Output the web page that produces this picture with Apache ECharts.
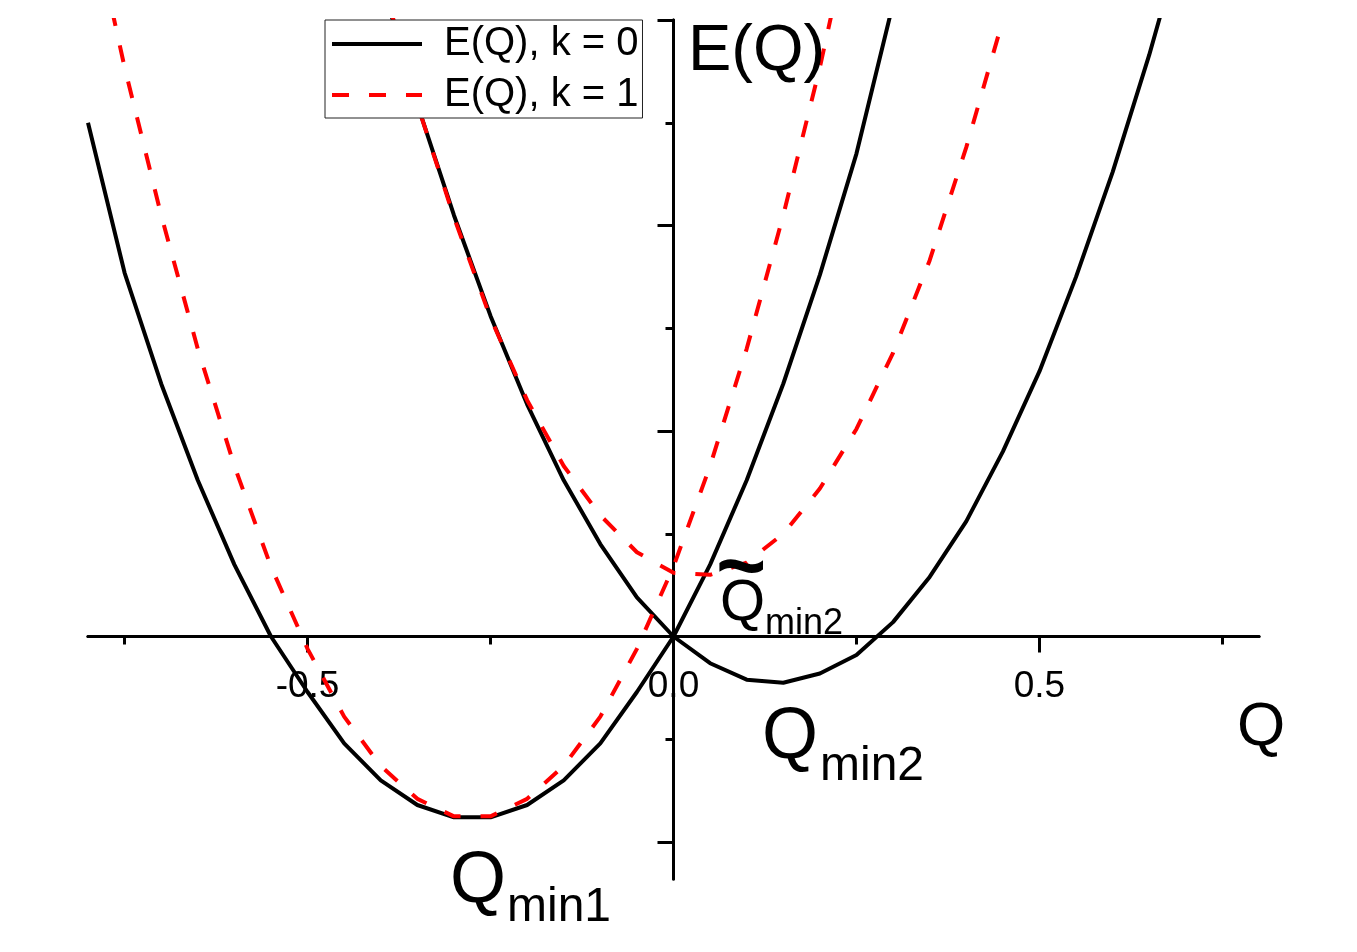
<!DOCTYPE html>
<html>
<head>
<meta charset="utf-8">
<script src="https://cdn.jsdelivr.net/npm/echarts@6/dist/echarts.min.js"></script>
<style>
  html, body { margin: 0; padding: 0; background: #fff; }
  #chart { width: 1357px; height: 952px; }
</style>
</head>
<body>
<div id="chart"></div>
<script>
// ---- data ----
// black curve, left well (k = 0)
const qA = [-0.80,-0.75,-0.70,-0.65,-0.60,-0.55,-0.50,-0.45,-0.40,-0.35,-0.30,-0.25,-0.20,-0.15,-0.10,-0.05,0.00,0.05,0.10,0.15,0.20,0.25,0.30,0.35];
const eA = [2.50,1.77,1.23,0.76,0.35,0.00,-0.27,-0.52,-0.70,-0.82,-0.88,-0.88,-0.82,-0.70,-0.52,-0.27,0.00,0.35,0.76,1.23,1.76,2.35,3.08,3.85];
// black curve, right well (k = 0)
const qB = [-0.40,-0.35,-0.30,-0.25,-0.20,-0.15,-0.10,-0.05,0.00,0.05,0.10,0.15,0.20,0.25,0.30,0.35,0.40,0.45,0.50,0.55,0.60,0.65,0.70];
const eB = [3.20,2.59,2.05,1.56,1.13,0.76,0.45,0.19,0.00,-0.13,-0.21,-0.225,-0.18,-0.09,0.07,0.29,0.56,0.90,1.29,1.75,2.26,2.83,3.46];
// red dashed curve, left (k = 1)
const qC = [-0.80,-0.75,-0.70,-0.65,-0.60,-0.55,-0.50,-0.45,-0.40,-0.35,-0.30,-0.25,-0.20,-0.15,-0.10,-0.05,0.00,0.05,0.10,0.15,0.20,0.25];
const eC = [3.58,2.77,2.05,1.40,0.83,0.34,-0.06,-0.39,-0.63,-0.79,-0.875,-0.875,-0.79,-0.63,-0.39,-0.06,0.34,0.83,1.40,2.05,2.77,3.58];
// red dashed curve, right (k = 1)
const qD = [-0.40,-0.35,-0.30,-0.25,-0.20,-0.15,-0.10,-0.05,0.00,0.05,0.10,0.15,0.20,0.25,0.30,0.35,0.40,0.45];
const eD = [3.22,2.59,2.04,1.55,1.15,0.83,0.59,0.41,0.31,0.30,0.36,0.50,0.72,1.01,1.38,1.83,2.38,3.00];

const seriesNames = ['E(Q), k = 0', 'E(Q), k = 1'];
const xMajorTicks = [-0.5, 0, 0.5];
const xMinorTicks = [-0.75, -0.25, 0.25, 0.75];
const yMajorTicks = [-1, 0, 1, 2, 3];
const yMinorTicks = [-0.5, 0.5, 1.5, 2.5];
const xRange = [-0.8, 0.8];
const yRange = [-1.18, 3.0];

const pairs = (q, e) => q.map((v, i) => [v, e[i]]);
const FONT = '"Liberation Sans", Arial, Helvetica, sans-serif';

// grid geometry
const G = { left: 88, top: 20, width: 1171, height: 859 };
// offsets that put the axes through the origin (Q = 0, E = 0)
const xAxisOffset = -(G.height * (0 - yRange[0]) / (yRange[1] - yRange[0]));
const yAxisOffset = -(G.width * (0 - xRange[0]) / (xRange[1] - xRange[0]));

const chart = echarts.init(document.getElementById('chart'), null, { renderer: 'canvas' });

function xAxisDef(ticks, len, withLabels) {
  return {
    type: 'value', min: xRange[0], max: xRange[1], position: 'bottom', offset: xAxisOffset, gridIndex: 0,
    splitLine: { show: false },
    axisLine: { show: true, onZero: false, lineStyle: { color: '#000', width: 3 } },
    axisTick: { show: true, customValues: ticks, length: len, inside: false, lineStyle: { color: '#000', width: 3 } },
    axisLabel: withLabels ? {
      show: true, customValues: ticks, margin: 32, color: '#000', fontSize: 37, fontFamily: FONT,
      formatter: v => Number(v).toFixed(1)
    } : { show: false }
  };
}
function yAxisDef(ticks, len) {
  return {
    type: 'value', min: yRange[0], max: yRange[1], position: 'left', offset: yAxisOffset, gridIndex: 0,
    splitLine: { show: false },
    axisLine: { show: true, onZero: false, lineStyle: { color: '#000', width: 3 } },
    axisTick: { show: true, customValues: ticks, length: len, inside: false, lineStyle: { color: '#000', width: 3 } },
    axisLabel: { show: false }
  };
}

const blackStyle = { color: '#000', width: 4, type: 'solid' };
const redStyle = { color: '#ff0000', width: 4, type: [17, 20], dashOffset: 0 };

chart.setOption({
  animation: false,
  backgroundColor: '#fff',
  grid: { left: G.left, top: G.top, width: G.width, height: G.height, containLabel: false, outerBoundsMode: 'none' },
  xAxis: [xAxisDef(xMajorTicks, 16, true), xAxisDef(xMinorTicks, 8, false)],
  yAxis: [yAxisDef(yMajorTicks, 16), yAxisDef(yMinorTicks, 8)],
  legend: {
    data: seriesNames,
    orient: 'vertical',
    left: 325, top: 20,
    padding: [4, 4, 3, 5],
    itemGap: 11,
    itemWidth: 90, itemHeight: 14,
    backgroundColor: '#fff',
    borderColor: '#222', borderWidth: 1,
    itemStyle: { opacity: 0 },
    lineStyle: { width: 4 },
    textStyle: { fontSize: 40, color: '#000', fontFamily: FONT, padding: [0, 0, 0, 17] }
  },
  series: [
    { name: seriesNames[0], type: 'line', data: pairs(qA, eA), symbol: 'none', lineStyle: blackStyle, itemStyle: { color: '#000' }, clip: true, z: 2 },
    { name: seriesNames[0], type: 'line', data: pairs(qB, eB), symbol: 'none', lineStyle: blackStyle, itemStyle: { color: '#000' }, clip: true, z: 2 },
    { name: seriesNames[1], type: 'line', data: pairs(qC, eC), symbol: 'none', lineStyle: redStyle, itemStyle: { color: '#ff0000' }, clip: true, z: 3 },
    { name: seriesNames[1], type: 'line', data: pairs(qD, eD), symbol: 'none', lineStyle: redStyle, itemStyle: { color: '#ff0000' }, clip: true, z: 3 }
  ],
  graphic: [
    { type: 'text', left: 688, top: 20, z: 10, style: { text: 'E(Q)', font: '65px ' + FONT, fill: '#000' } },
    { type: 'text', left: 1237, top: 697, z: 10, style: { text: 'Q', font: '62px ' + FONT, fill: '#000' } },
    { type: 'text', left: 762, top: 702, z: 10, style: { text: 'Q', font: '72px ' + FONT, fill: '#000' } },
    { type: 'text', left: 820, top: 743, z: 10, style: { text: 'min2', font: '48px ' + FONT, fill: '#000' } },
    { type: 'text', left: 450, top: 846, z: 10, style: { text: 'Q', font: '72px ' + FONT, fill: '#000' } },
    { type: 'text', left: 507, top: 884, z: 10, style: { text: 'min1', font: '48px ' + FONT, fill: '#000' } },
    { type: 'text', left: 720, top: 575, z: 10, style: { text: 'Q', font: '58px ' + FONT, fill: '#000' } },
    { type: 'text', left: 765, top: 606, z: 10, style: { text: 'min2', font: '36px ' + FONT, fill: '#000' } },
    { type: 'text', left: 716, top: 528, z: 10, style: { text: '~', font: 'bold 86px ' + FONT, fill: '#000' } }
  ]
});
</script>
</body>
</html>
